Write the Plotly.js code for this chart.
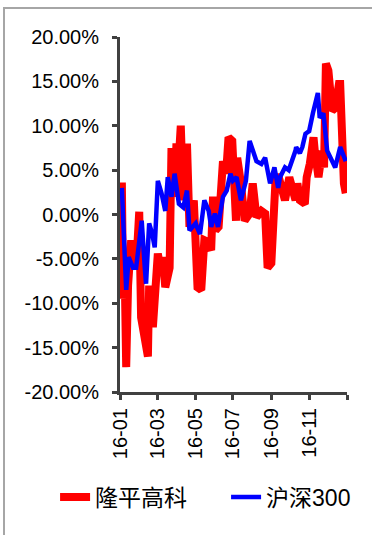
<!DOCTYPE html>
<html>
<head>
<meta charset="utf-8">
<script src="https://cdn.plot.ly/plotly-3.0.1.min.js"></script>
<style>
  html, body { margin: 0; padding: 0; background: #fff; }
  #chart { width: 372px; height: 535px; }
</style>
</head>
<body>
<div id="chart"></div>
<script>
// ---- Data (values in %) ----
const seriesNames = ["隆平高科", "沪深300"];

const redDates = [
  "2016-01-04","2016-01-06","2016-01-08","2016-01-11","2016-01-14","2016-01-19","2016-01-22","2016-01-27","2016-02-01","2016-02-04",
  "2016-02-15","2016-02-17","2016-02-23","2016-03-02","2016-03-07","2016-03-10","2016-03-14",
  "2016-03-21","2016-03-24","2016-03-29","2016-04-01","2016-04-05","2016-04-08","2016-04-12",
  "2016-04-18","2016-04-22","2016-04-29","2016-05-05","2016-05-11","2016-05-16",
  "2016-05-19","2016-05-27","2016-05-30","2016-06-03","2016-06-08","2016-06-15",
  "2016-06-20","2016-06-24","2016-06-30","2016-07-06","2016-07-08","2016-07-14",
  "2016-07-20","2016-07-28","2016-08-02","2016-08-08","2016-08-16","2016-08-22",
  "2016-08-26","2016-09-01","2016-09-05","2016-09-08","2016-09-13","2016-09-23",
  "2016-09-30","2016-10-10","2016-10-13","2016-10-17","2016-10-25","2016-10-28",
  "2016-11-02","2016-11-08","2016-11-10","2016-11-16","2016-11-22","2016-11-25",
  "2016-11-28","2016-12-02","2016-12-08","2016-12-13","2016-12-19","2016-12-21",
  "2016-12-27","2016-12-30"
];
const redValues = [
  3.6,-9.5,-4.0,-17.2,-8.0,-2.9,-5.5,-6.0,0.3,-11.6,
  -16.0,-8.0,-12.7,-4.4,-6.5,-4.8,-8.2,
  -6.0,7.5,2.0,8.0,6.5,10.0,1.6,
  8.0,-1.4,1.6,-8.2,-8.5,-2.9,
  -3.0,-4.0,2.0,-1.8,-1.4,6.0,
  4.6,8.7,8.3,-0.7,6.4,3.5,
  -0.7,0.1,3.5,-0.3,0.4,0.1,
  -6.0,-5.5,0.5,4.2,4.2,1.6,
  4.2,1.6,3.5,1.6,1.2,4.2,
  5.7,8.7,7.2,4.2,7.2,5.3,
  17.0,16.2,11.7,12.0,14.7,14.7,
  3.5,2.4
];

const blueDates = [
  "2016-01-04","2016-01-06","2016-01-11","2016-01-15","2016-01-22","2016-01-27",
  "2016-02-02","2016-02-05","2016-02-10","2016-02-12","2016-02-17","2016-02-22",
  "2016-02-26","2016-03-02","2016-03-08","2016-03-14","2016-03-18","2016-03-24",
  "2016-03-29","2016-04-05","2016-04-12","2016-04-18","2016-04-22","2016-05-02",
  "2016-05-04","2016-05-09","2016-05-16","2016-05-23","2016-05-27","2016-06-02",
  "2016-06-07","2016-06-15","2016-06-21","2016-06-27","2016-07-01","2016-07-07",
  "2016-07-14","2016-07-22","2016-07-28","2016-08-03","2016-08-08","2016-08-16",
  "2016-08-22","2016-08-30","2016-09-06","2016-09-12","2016-09-15","2016-09-23",
  "2016-09-29","2016-10-10","2016-10-11","2016-10-17","2016-10-21","2016-10-26",
  "2016-11-01","2016-11-07","2016-11-11","2016-11-15","2016-11-18","2016-11-24",
  "2016-11-30","2016-12-06","2016-12-13","2016-12-21","2016-12-27","2016-12-30"
];
const blueValues = [
  3.0,-1.4,-8.5,-4.8,-6.0,-6.0,
  -2.2,-0.7,-6.0,-7.8,-1.0,-2.2,
  -3.7,3.8,2.4,0.4,4.2,2.0,
  4.6,1.2,0.8,2.7,-1.8,-1.0,
  -1.4,-2.2,1.6,0.4,-1.4,0.1,
  -1.4,2.0,2.7,4.6,3.8,4.2,
  1.6,3.8,8.3,7.2,6.0,5.7,
  6.4,3.5,5.3,3.0,4.2,5.3,
  5.0,7.2,7.6,6.9,7.6,9.1,
  9.4,11.4,12.8,13.7,10.9,11.4,
  7.2,6.4,5.3,7.6,6.4,6.0
];

const xTickVals = ["2016-01-01","2016-03-01","2016-05-01","2016-07-01","2016-09-01","2016-11-01","2017-01-01"];
const xTickText = ["16-01","16-03","16-05","16-07","16-09","16-11",""];
const yTickVals = [-20,-15,-10,-5,0,5,10,15,20];
const yTickText = ["-20.00%","-15.00%","-10.00%","-5.00%","0.00%","5.00%","10.00%","15.00%","20.00%"];

const traces = [
  {
    x: redDates, y: redValues, name: seriesNames[0], type: "scatter", mode: "lines",
    line: { color: "#ff0000", width: 8 }
  },
  {
    x: blueDates, y: blueValues, name: seriesNames[1], type: "scatter", mode: "lines",
    line: { color: "#0000ff", width: 4.5 }
  }
];

const fontFam = "'Liberation Sans', Arial, 'Noto Sans CJK SC', sans-serif";

const layout = {
  width: 372, height: 535,
  margin: { l: 120, r: 25, t: 37, b: 143, autoexpand: false },
  paper_bgcolor: "#ffffff",
  plot_bgcolor: "#ffffff",
  font: { family: fontFam, size: 20, color: "#000000" },
  showlegend: true,
  legend: {
    orientation: "h",
    x: -0.286, xanchor: "left",
    y: -0.296, yanchor: "middle",
    font: { family: fontFam, size: 23, color: "#000000" },
    itemwidth: 30,
    entrywidth: 126,
    bgcolor: "rgba(0,0,0,0)"
  },
  xaxis: {
    type: "date",
    range: ["2016-01-01", "2017-01-01"],
    tickmode: "array",
    tickvals: xTickVals,
    ticktext: xTickText,
    tickangle: -90,
    showgrid: false,
    zeroline: false,
    showline: true,
    linecolor: "#404040",
    linewidth: 3,
    ticks: "outside",
    ticklen: 5,
    tickwidth: 3,
    tickcolor: "#404040",
    tickfont: { family: fontFam, size: 20, color: "#000000" },
    fixedrange: true
  },
  yaxis: {
    range: [-20, 20],
    tickmode: "array",
    tickvals: yTickVals,
    ticktext: yTickText,
    showgrid: false,
    zeroline: false,
    showline: true,
    linecolor: "#404040",
    linewidth: 3,
    ticks: "outside",
    ticklen: 5,
    tickwidth: 3,
    tickcolor: "#404040",
    ticklabelstandoff: 9,
    tickfont: { family: fontFam, size: 20, color: "#000000" },
    fixedrange: true
  },
  shapes: [
    {
      type: "rect", xref: "paper", yref: "paper",
      x0: -0.511, x1: 1.2, y0: -0.45, y1: 1.0817,
      line: { color: "#a6a6a6", width: 2 },
      fillcolor: "rgba(0,0,0,0)",
      layer: "below"
    }
  ]
};

Plotly.newPlot("chart", traces, layout, { displayModeBar: false, staticPlot: true });
</script>
</body>
</html>
